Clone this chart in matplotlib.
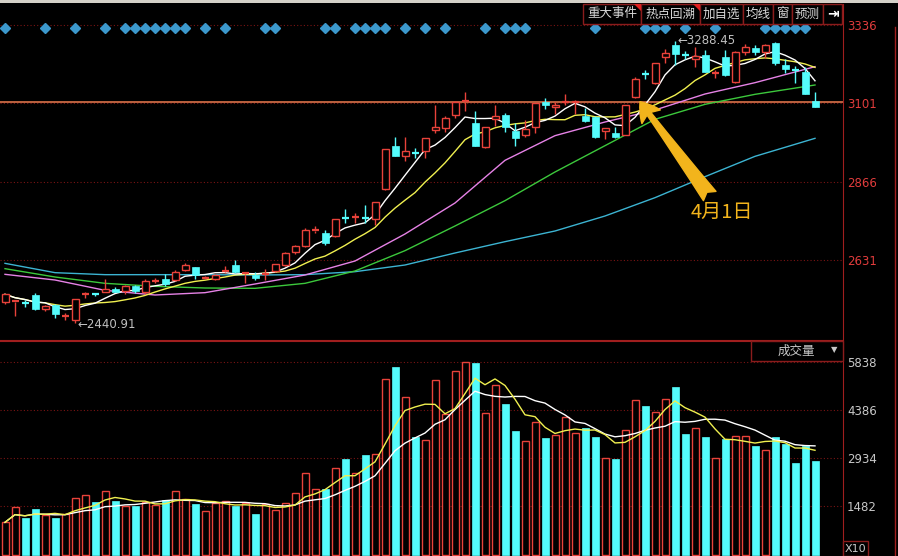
import numpy as np
import pandas as pd
import matplotlib
matplotlib.use("Agg")
import matplotlib.pyplot as plt
from matplotlib.patches import Rectangle, Polygon

plt.rcParams['font.family'] = ['Noto Sans CJK SC', 'DejaVu Sans']

# ---- data ----
opens = [2506, 2506, 2503, 2526, 2483, 2496, 2463, 2451, 2528, 2530,
         2534, 2544, 2539, 2553, 2536, 2568, 2574, 2571, 2601, 2609,
         2577, 2574, 2596, 2617, 2590, 2585, 2589, 2598, 2616, 2654,
         2673, 2719, 2713, 2703, 2760, 2760, 2760, 2753, 2843, 2973,
         2944, 2953, 2959, 3021, 3026, 3066, 3106, 3043, 2971, 3053,
         3067, 3019, 3005, 3031, 3106, 3089, 3104, 3104, 3063, 3059,
         3018, 3011, 3006, 3119, 3189, 3163, 3241, 3276, 3249, 3234,
         3246, 3191, 3239, 3166, 3256, 3266, 3256, 3283, 3216, 3201,
         3196, 3109]
highs = [2530, 2511, 2511, 2533, 2495, 2499, 2473, 2515, 2536, 2533,
         2573, 2550, 2555, 2557, 2574, 2576, 2588, 2600, 2621, 2611,
         2584, 2590, 2613, 2631, 2596, 2595, 2605, 2620, 2655, 2676,
         2728, 2733, 2721, 2753, 2784, 2773, 2796, 2806, 2965, 2999,
         2999, 2966, 2998, 3096, 3062, 3108, 3136, 3079, 3031, 3096,
         3071, 3041, 3050, 3101, 3116, 3106, 3129, 3111, 3086, 3063,
         3028, 3029, 3096, 3181, 3201, 3223, 3263, 3288.45, 3259, 3269,
         3261, 3201, 3261, 3258, 3279, 3276, 3279, 3284, 3233, 3213,
         3211, 3136]
lows = [2498, 2463, 2491, 2481, 2478, 2456, 2451, 2440.91, 2516, 2524,
        2534, 2534, 2530, 2532, 2528, 2561, 2552, 2567, 2599, 2573,
        2574, 2570, 2593, 2593, 2561, 2571, 2571, 2594, 2613, 2649,
        2669, 2713, 2675, 2701, 2741, 2743, 2741, 2736, 2840, 2942,
        2929, 2936, 2936, 3011, 3016, 3056, 3079, 2973, 2968, 3033,
        3016, 2973, 3000, 3013, 3083, 3069, 3096, 3069, 3046, 2996,
        2993, 2996, 3006, 3117, 3173, 3159, 3223, 3216, 3233, 3211,
        3196, 3176, 3183, 3163, 3246, 3246, 3236, 3216, 3193, 3163,
        3129, 3091]
closes = [2528, 2508, 2501, 2483, 2493, 2469, 2466, 2513, 2531, 2528,
          2543, 2536, 2553, 2539, 2569, 2571, 2559, 2596, 2616, 2586,
          2580, 2586, 2598, 2596, 2592, 2577, 2592, 2618, 2653, 2672,
          2721, 2722, 2683, 2753, 2757, 2763, 2757, 2804, 2963, 2944,
          2958, 2950, 2996, 3031, 3058, 3106, 3109, 2973, 3031, 3063,
          3031, 2996, 3025, 3101, 3096, 3096, 3106, 3106, 3049, 3001,
          3026, 2999, 3096, 3173, 3188, 3223, 3251, 3249, 3246, 3243,
          3196, 3194, 3186, 3256, 3271, 3256, 3276, 3221, 3203, 3199,
          3129, 3091]
volumes = [998, 1461, 1128, 1400, 1229, 1128, 1259, 1724, 1824, 1612,
           1945, 1643, 1501, 1501, 1603, 1522, 1664, 1945, 1694, 1552,
           1340, 1582, 1633, 1501, 1582, 1249, 1543, 1361, 1573, 1875,
           2480, 1997, 2006, 2641, 2913, 2480, 3034, 3064, 5324, 5696,
           4780, 3570, 3488, 5294, 4274, 5566, 5838, 5817, 4305, 5152,
           4577, 3760, 3458, 4023, 3548, 3639, 4184, 3700, 3851, 3579,
           2943, 2923, 3790, 4689, 4516, 4335, 4719, 5091, 3669, 3842,
           3579, 2943, 3518, 3600, 3600, 3316, 3185, 3579, 3358, 2792,
           3306, 2853]

# long moving averages, read every 5 bars
ma_idx = [0, 5, 10, 15, 20, 25, 30, 35, 40, 45, 50, 55, 60, 65, 70, 75, 81]
ma20 = [2588, 2571, 2540, 2526, 2533, 2559, 2586, 2628, 2709, 2802,
        2930, 3004, 3045, 3081, 3129, 3163, 3211]
ma30 = [2605, 2580, 2561, 2552, 2547, 2546, 2561, 2598, 2659, 2733,
        2809, 2895, 2974, 3053, 3098, 3128, 3156]
ma60 = [2621, 2593, 2587, 2587, 2587, 2586, 2587, 2596, 2616, 2652,
        2686, 2718, 2763, 2818, 2881, 2942, 2996]

signal_idx = [0, 4, 7, 10, 12, 13, 14, 15, 16, 17, 18, 20, 22, 26, 27,
              32, 33, 35, 36, 37, 38, 40, 42, 44, 48, 50, 51, 52, 59,
              64, 65, 66, 68, 71, 76, 77, 78, 79, 80]

price_ticks = [3336, 3101, 2866, 2631]
vol_ticks = [5838, 4386, 2934, 1482]
ref_level = 3106
buttons = ['重大事件', '热点回溯', '加自选', '均线', '窗', '预测', '⇥']

RED = '#e8423a'
CYAN = '#54fcfc'
GRID = '#7a1414'
AXRED = '#a01e1e'

df = pd.DataFrame({'o': opens, 'h': highs, 'l': lows, 'c': closes, 'v': volumes})
idx = np.arange(len(df))
ma5 = df['c'].rolling(5, min_periods=1).mean()
ma10 = df['c'].rolling(10, min_periods=1).mean()
vma5 = df['v'].rolling(5, min_periods=1).mean()
vma10 = df['v'].rolling(10, min_periods=1).mean()

fig = plt.figure(figsize=(8.98, 5.56), dpi=100, facecolor='black')
ax = fig.add_axes([0, 216 / 556, 843 / 898, 336 / 556])
axv = fig.add_axes([0, 0, 843 / 898, 215 / 556])

for a in (ax, axv):
    a.set_facecolor('black')
    a.set_xlim(-0.5, 83.8)
    a.tick_params(axis='x', bottom=False, labelbottom=False)
    a.yaxis.tick_right()
    a.tick_params(axis='y', length=0, pad=3, labelsize=8.5)
    for s in ('left', 'top', 'bottom', 'right'):
        a.spines[s].set_visible(False)
    a.spines['right'].set_visible(True)
    a.spines['right'].set_color(AXRED)

ax.set_ylim(2391, 3399)
ax.spines['bottom'].set_visible(True)
ax.spines['bottom'].set_color(AXRED)
ax.set_yticks(price_ticks)
ax.set_yticklabels([str(t) for t in price_ticks], color='#e03c3c', family='DejaVu Sans')
for t in price_ticks:
    ax.axhline(t, color=GRID, lw=0.8, ls=(0, (1, 2)), zorder=0)
ax.axhline(ref_level, color='#f07c50', lw=1.1, zorder=1)

# moving averages
ax.plot(ma_idx, ma60, color='#3cb4d2', lw=1, zorder=2)
ax.plot(ma_idx, ma30, color='#3cc83c', lw=1, zorder=2)
ax.plot(ma_idx, ma20, color='#e682e6', lw=1, zorder=2)
ax.plot(idx, ma10, color='#f0f050', lw=1, zorder=2)
ax.plot(idx, ma5, color='white', lw=1, zorder=2)

# candles
w = 0.7
for i in idx:
    o, h, l, c = df.loc[i, ['o', 'h', 'l', 'c']]
    if c >= o:
        top, bot = c, o
        ax.vlines(i, top, h, color=RED, lw=1, zorder=3)
        ax.vlines(i, l, bot, color=RED, lw=1, zorder=3)
        if top - bot < 4:
            ax.hlines((top + bot) / 2, i - w / 2, i + w / 2, color=RED, lw=1.6, zorder=4)
        else:
            ax.add_patch(Rectangle((i - w / 2, bot), w, top - bot, fc='black', ec=RED, lw=1, zorder=4))
    else:
        ax.vlines(i, l, h, color=CYAN, lw=1, zorder=3)
        if o - c < 4:
            ax.hlines((o + c) / 2, i - w / 2, i + w / 2, color=CYAN, lw=1.6, zorder=4)
        else:
            ax.add_patch(Rectangle((i - w / 2, c), w, o - c, fc=CYAN, ec=CYAN, lw=0.5, zorder=4))

ax.plot(signal_idx, [3326] * len(signal_idx), ls='none', marker='D', ms=5,
        color='#3c98cc', zorder=5)

hi_i = int(np.argmax(highs))
lo_i = int(np.argmin(lows))
ax.text(hi_i + 0.2, highs[hi_i] + 2, '←%.2f' % highs[hi_i], color='#c0c0c0',
        fontsize=8.5, va='center', ha='left', family=['DejaVu Sans'], zorder=6)
ax.text(lo_i + 0.2, lows[lo_i] - 2, '←%.2f' % lows[lo_i], color='#c0c0c0',
        fontsize=8.5, va='center', ha='left', family=['DejaVu Sans'], zorder=6)

ax.annotate('4月1日', xy=(63.5, 3106), xytext=(71.7, 2773),
            color='#f2b41c', fontsize=14.5, ha='center', va='center',
            arrowprops=dict(arrowstyle='fancy,head_length=0.9,head_width=1.1,tail_width=0.75',
                            color='#f2b41c', shrinkA=3, shrinkB=0, mutation_scale=15),
            zorder=7)

# volume panel
axv.set_ylim(-21, 6483)
axv.spines['top'].set_visible(True)
axv.spines['top'].set_color(AXRED)
axv.set_yticks(vol_ticks)
axv.set_yticklabels([str(t) for t in vol_ticks], color='#c8c8c8', family='DejaVu Sans')
for t in vol_ticks:
    axv.axhline(t, color=GRID, lw=0.8, ls=(0, (1, 2)), zorder=0)
up = df['c'] >= df['o']
axv.bar(idx[up], df['v'][up], width=w, color='black', edgecolor=RED, lw=1, zorder=2)
axv.bar(idx[~up], df['v'][~up], width=w, color=CYAN, edgecolor=CYAN, lw=0.5, zorder=2)
axv.plot(idx, vma10, color='white', lw=1, zorder=3)
axv.plot(idx, vma5, color='#f0f050', lw=1, zorder=3)

# overlay: toolbar, boxes
ov = fig.add_axes([0, 0, 1, 1], zorder=10)
ov.set_xlim(0, 898)
ov.set_ylim(556, 0)
ov.axis('off')
ov.patch.set_alpha(0)
ov.add_patch(Rectangle((0, 0), 898, 2.5, fc='#d4d0c8', ec='none'))
edges = [583, 641, 700, 743, 773, 792, 823, 842]
for k, lab in enumerate(buttons):
    x0, x1 = edges[k], edges[k + 1]
    ov.add_patch(Rectangle((x0, 4), x1 - x0, 20, fc='black', ec='#8a1c1c', lw=1))
    if lab == '⇥':
        ov.text((x0 + x1) / 2, 14, lab, color='white', fontsize=10, fontweight='bold',
                ha='center', va='center', family=['DejaVu Sans'])
    else:
        ov.text((x0 + x1) / 2, 14, lab, color='#d8d8d8', fontsize=9, ha='center', va='center')
for x1 in edges[1:3]:
    ov.add_patch(Polygon([(x1 - 7, 4), (x1, 4), (x1, 11)], closed=True, fc='#e02020', ec='none'))

ov.add_patch(Rectangle((751, 341), 92, 20, fc='black', ec='#8a1c1c', lw=1))
ov.text(796, 351, '成交量', color='#c8c8c8', fontsize=9, ha='center', va='center')
ov.text(834, 350, '▼', color='#c8c8c8', fontsize=6, ha='center', va='center',
        family=['DejaVu Sans'])
ov.add_patch(Rectangle((843, 541), 25, 15, fc='black', ec='#8a1c1c', lw=1))
ov.text(855.5, 548.5, 'X10', color='#c8c8c8', fontsize=8, ha='center', va='center',
        family=['DejaVu Sans'])
ov.plot([895, 895], [27, 556], color=AXRED, lw=1)

fig.savefig('out.png', dpi=100, facecolor='black')
